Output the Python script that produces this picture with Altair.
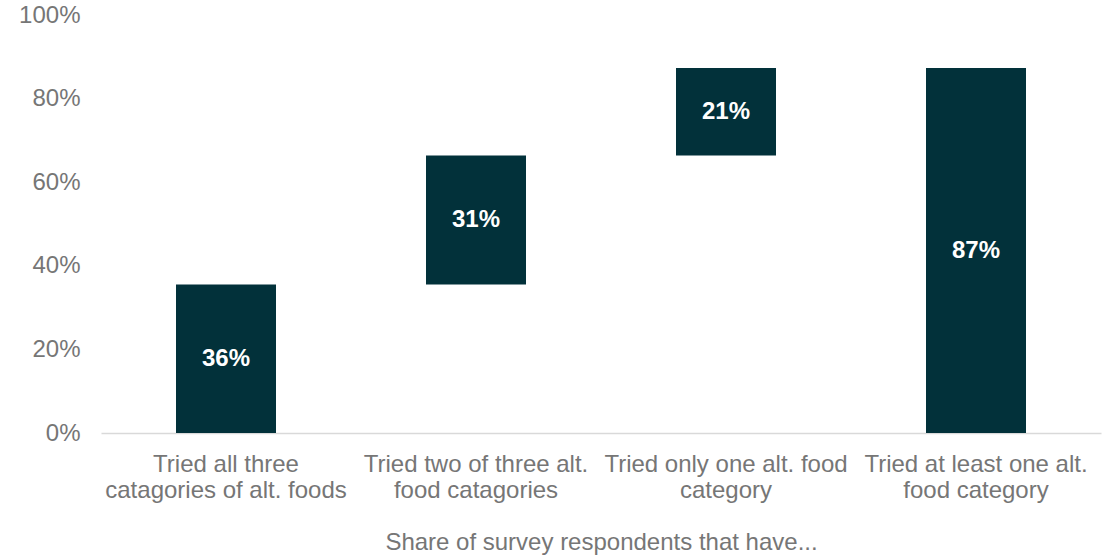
import altair as alt
import pandas as pd

categories = [
    "Tried all three|catagories of alt. foods",
    "Tried two of three alt.|food catagories",
    "Tried only one alt. food|category",
    "Tried at least one alt.|food category",
]
starts = [0.0, 35.5, 66.4, 0.0]
ends = [35.5, 66.4, 87.3, 87.3]
labels = ["36%", "31%", "21%", "87%"]

df = pd.DataFrame({"cat": categories, "start": starts, "end": ends, "label": labels})
df["mid"] = (df["start"] + df["end"]) / 2

FONT = "Liberation Sans"
GRAY = "#767676"

x = alt.X(
    "cat:N",
    sort=categories,
    scale=alt.Scale(paddingInner=0.6, paddingOuter=0.3),
    axis=alt.Axis(
        title="Share of survey respondents that have...",
        labelExpr="split(datum.label, '|')",
        labelAngle=0,
        labelFont=FONT,
        labelFontSize=24,
        labelColor=GRAY,
        labelLineHeight=26,
        labelPadding=19,
        labelLimit=400,
        ticks=False,
        domainColor="#d9d9d9",
        domainWidth=1.5,
        titleFont=FONT,
        titleFontSize=24,
        titleFontWeight="normal",
        titleColor=GRAY,
        titlePadding=28,
    ),
)

bars = alt.Chart(df).mark_bar(color="#02313a").encode(
    x=x,
    y=alt.Y(
        "start:Q",
        scale=alt.Scale(domain=[0, 100], nice=False),
        axis=alt.Axis(
            title=None,
            values=[0, 20, 40, 60, 80, 100],
            labelExpr="datum.value + '%'",
            labelFont=FONT,
            labelFontSize=24,
            labelColor=GRAY,
            labelPadding=21,
            ticks=False,
            domain=False,
            grid=False,
        ),
    ),
    y2="end:Q",
)

text = alt.Chart(df).mark_text(
    color="white", font=FONT, fontSize=24, fontWeight="bold", baseline="middle"
).encode(
    x=alt.X("cat:N", sort=categories),
    y=alt.Y("mid:Q"),
    text="label:N",
)

chart = (
    alt.layer(bars, text)
    .properties(
        width=1000,
        height=418,
        background="white",
        autosize=alt.AutoSizeParams(type="none"),
        padding={"left": 101, "top": 15, "right": 11, "bottom": 126},
    )
    .configure_view(strokeWidth=0, stroke="transparent")
)

chart.save("out.html", embed_options={"renderer": "svg", "actions": False})
